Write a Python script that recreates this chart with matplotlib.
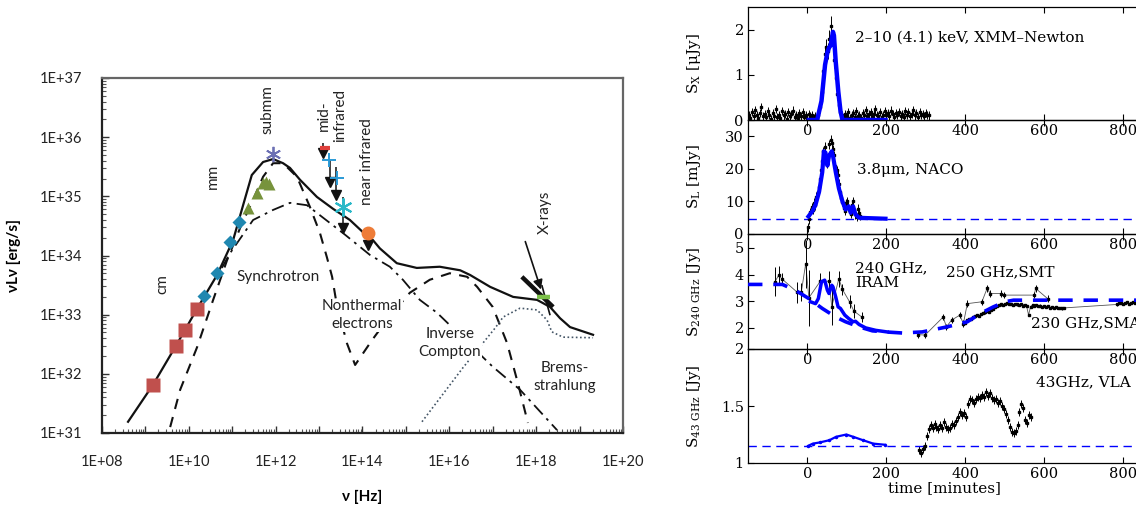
import numpy as np
import matplotlib
matplotlib.use('Agg')
import matplotlib.pyplot as plt
from matplotlib.ticker import LogLocator, FuncFormatter, NullFormatter

plt.rcParams['mathtext.fontset'] = 'dejavuserif'

# ---------------- spectrum (log10 nu [Hz], log10 nuLnu [erg/s]) ----------------
total_nu = [8.60, 9.17, 9.70, 10.19, 10.65, 11.02, 11.25, 11.45, 11.71, 11.94, 12.17, 12.33,
            12.56, 12.95, 13.32, 13.71, 14.06, 14.24, 14.40, 14.79, 15.25, 15.78, 16.25,
            16.48, 16.94, 17.47, 18.02, 18.32, 18.55, 18.78, 19.31]
total_L = [31.19, 31.81, 32.47, 33.10, 33.67, 34.26, 34.85, 35.36, 35.58, 35.63, 35.56, 35.48,
           35.28, 34.99, 34.79, 34.60, 34.36, 34.26, 34.12, 33.87, 33.79, 33.81, 33.75,
           33.67, 33.47, 33.30, 33.25, 33.13, 32.94, 32.79, 32.66]

therm_nu = [9.57, 9.80, 10.19, 10.56, 10.88, 11.20, 11.48, 11.71, 11.94, 12.17, 12.49, 12.79,
            13.02, 13.18, 13.30, 13.40, 13.64, 13.83, 14.22, 14.60, 15.09, 15.55, 16.01,
            16.41, 16.64, 17.00, 17.33, 17.58, 17.81]
therm_L = [31.10, 31.73, 32.45, 33.25, 33.92, 34.50, 34.94, 35.33, 35.56, 35.56, 35.33, 34.82,
           34.38, 33.97, 33.64, 33.20, 32.52, 32.15, 32.57, 32.95, 33.37, 33.59, 33.70,
           33.64, 33.47, 33.13, 32.52, 31.84, 31.17]

nonth_nu = [10.76, 10.95, 11.48, 11.94, 12.33, 12.72, 13.02, 13.60, 14.17, 14.63, 14.93,
            15.32, 15.72, 17.00, 17.63, 18.48]
nonth_L = [33.79, 34.04, 34.60, 34.77, 34.89, 34.85, 34.68, 34.35, 34.01, 33.81, 33.59,
           33.25, 33.03, 32.12, 31.73, 31.05]

brems_nu = [15.37, 16.31, 17.05, 17.24, 17.63, 18.02, 18.25, 18.36, 18.62, 19.31]
brems_L = [31.19, 32.10, 32.77, 32.96, 33.11, 33.08, 32.91, 32.71, 32.62, 32.61]

cm_nu = [9.17, 9.70, 9.91, 10.19]
cm_L = [31.81, 32.47, 32.74, 33.10]
mm_nu = [10.35, 10.65, 10.95, 11.16]
mm_L = [33.32, 33.70, 34.23, 34.57]
smm_nu = [11.36, 11.57, 11.70, 11.78, 11.85]
smm_L = [34.80, 35.06, 35.23, 35.25, 35.21]
peak_nu, peak_L = 11.94, 35.71

# mid-infrared upper limits: marker position and top of the arrow
ir_nu = [13.09, 13.25, 13.39, 13.55, 14.13]
ir_lim = [35.73, 35.24, 35.02, 34.46, 34.18]
ir_top = [35.90, 35.61, 35.50, 34.99, 34.18]
mir_red = (13.14, 35.82)
mir_plus_nu = [13.23, 13.41]
mir_plus_L = [35.61, 35.31]
mir_star = (13.55, 34.82)
nir_dot = (14.13, 34.38)

# X-ray arrow and bow tie
xray_arrow = [(17.73, 34.28), (18.13, 33.38)]
xray_bow1 = [(17.67, 33.64), (18.39, 33.13)]
xray_bow2 = [(18.13, 33.50), (18.32, 32.99)]
xray_flux = [(18.02, 33.30), (18.32, 33.30)]

# ---------------- light curves ----------------
xr_t = np.arange(-148, 310, 4)
xr_v = [0.12, 0.05, 0.18, 0.09, 0.22, 0.10, 0.04, 0.15, 0.28, 0.08,
        0.13, 0.06, 0.20, 0.11, 0.03, 0.16, 0.09, 0.24, 0.07, 0.12,
        0.05, 0.19, 0.10, 0.14, 0.02, 0.17, 0.08, 0.13, 0.21, 0.06,
        0.11, 0.04, 0.15, 0.09, 0.18, 0.07, 0.12, 0.03, 0.14, 0.08,
        0.10, 0.05, 0.09, 0.04,
        0.10, 0.28, 0.62, 1.08, 1.45, 1.62, 1.52, 1.80, 2.08, 1.70, 1.32, 0.92, 0.58, 0.34, 0.18, 0.10,
        0.06, 0.13, 0.08, 0.17, 0.04, 0.11, 0.15, 0.07, 0.20, 0.09,
        0.12, 0.05, 0.16, 0.10, 0.22, 0.08, 0.13, 0.18, 0.06, 0.14,
        0.25, 0.11, 0.09, 0.17, 0.07, 0.12, 0.19, 0.10, 0.15, 0.08,
        0.21, 0.13, 0.06, 0.16, 0.11, 0.18, 0.09, 0.14, 0.07, 0.20,
        0.12, 0.17, 0.08, 0.13, 0.22, 0.10, 0.15, 0.06, 0.18, 0.11,
        0.14, 0.09, 0.16, 0.12, 0.10]
xr_err = [0.09] * 44 + [0.10, 0.12, 0.14, 0.16, 0.18, 0.18, 0.18, 0.20, 0.22, 0.20,
                        0.18, 0.16, 0.14, 0.12, 0.10, 0.10] + [0.09] * 55
xr_mod_t = [4, 25, 36, 45, 51, 55, 59, 62, 65, 67.5, 72, 78.5, 84, 89, 198]
xr_mod_v = [0.0, 0.0, 0.42, 1.22, 1.50, 1.60, 1.65, 1.80, 1.95, 1.87, 1.29, 0.63, 0.20, 0.0, 0.0]

nir_t = np.arange(2, 135, 3)
nir_v = [2.0, 4.5, 6.8, 8.2, 7.5, 9.6, 8.8, 11.5, 12.8, 14.5, 17.0, 19.8, 22.5, 25.5, 26.8,
         24.0, 21.5, 23.5, 27.5, 29.0, 27.8, 26.0, 24.2, 21.0, 19.5, 18.2, 15.5, 13.0, 11.2,
         9.8, 8.0, 7.2, 9.5, 10.2, 8.4, 7.0, 6.2, 9.0, 10.0, 7.4, 6.0, 5.2, 7.8, 6.6, 5.5]
nir_err = 1.3
nir_mod_t = [3, 13, 21, 30, 38, 42, 46, 51, 55, 62, 65, 72, 80, 89, 97, 105, 110, 116, 122, 131, 150, 175, 198]
nir_mod_v = [5.4, 7.0, 9.0, 13.0, 19.0, 25.4, 25.0, 21.0, 24.0, 25.4, 24.0, 19.0, 14.0, 10.0,
             7.5, 8.5, 6.5, 8.5, 6.0, 5.0, 4.9, 4.8, 4.7]
nir_quiet = 4.6

iram_t = [-82, -72, -65, -25, -15, -4, 4, 33, 55, 62, 80, 89, 107, 118, 138]
iram_v = [3.73, 3.98, 3.85, 3.33, 3.35, 4.41, 3.13, 3.75, 3.75, 2.80, 3.85, 3.44, 2.98, 2.63, 2.41]
iram_err = [0.55, 0.35, 0.20, 0.40, 0.35, 0.90, 1.05, 0.30, 0.40, 0.68, 0.30, 0.20, 0.25, 0.25, 0.20]
smt_t = [281, 298, 344, 352, 365, 386, 395, 405, 442, 455, 463, 489, 498, 574, 578, 608]
smt_v = [1.75, 1.73, 2.41, 2.04, 2.29, 2.48, 2.16, 2.91, 2.98, 3.48, 3.29, 3.29, 3.23, 3.23, 3.48, 3.10]
smt_err = 0.12
sma_t = list(np.arange(400, 651, 5)) + list(np.arange(785, 836, 5))
sma_v = [2.20, 2.28, 2.35, 2.32, 2.40, 2.45, 2.48, 2.46, 2.52, 2.55, 2.58, 2.62, 2.60, 2.66,
         2.72, 2.78, 2.82, 2.85, 2.88, 2.86, 2.90, 2.92, 2.89, 2.91, 2.87, 2.90, 2.88, 2.86,
         2.89, 2.84, 2.87, 2.82, 2.48, 2.80, 2.86, 2.83, 2.85, 2.81, 2.84, 2.80, 2.82, 2.79,
         2.81, 2.76, 2.78, 2.75, 2.77, 2.74, 2.76, 2.73, 2.75,
         2.88, 2.92, 2.95, 2.90, 2.93, 2.96, 2.91, 2.94, 2.97, 2.92, 2.95]
sma_err = 0.04
mm_mod_t = [8, 21, 28, 36, 44, 51, 55, 62, 65, 72, 78, 84, 95, 105, 116, 122, 131, 148, 173, 202]
mm_mod_v = [2.98, 2.91, 3.10, 3.73, 3.79, 3.41, 3.29, 3.60, 3.54, 3.16, 2.79, 2.73, 2.48, 2.35,
            2.23, 2.25, 2.13, 2.00, 1.91, 1.85]
mm_base_t = [-150, -63, -30, 4, 38, 72, 97, 131, 165, 198, 240, 291, 354, 405, 438, 471, 501, 522, 607, 845]
mm_base_v = [3.63, 3.63, 3.41, 3.10, 2.73, 2.41, 2.23, 2.04, 1.89, 1.85, 1.81, 1.85, 2.04, 2.23,
             2.54, 2.79, 2.98, 3.04, 3.04, 3.04]

vla_t = np.arange(282, 568, 5)
vla_v = [1.11, 1.09, 1.12, 1.15, 1.24, 1.30, 1.33, 1.31, 1.34, 1.32, 1.30, 1.33, 1.31, 1.36,
         1.32, 1.30, 1.31, 1.34, 1.33, 1.37, 1.40, 1.45, 1.42, 1.44, 1.40, 1.52, 1.56, 1.55,
         1.53, 1.56, 1.58, 1.57, 1.60, 1.58, 1.62, 1.59, 1.61, 1.57, 1.55, 1.56, 1.53, 1.54,
         1.50, 1.47, 1.43, 1.38, 1.32, 1.27, 1.26, 1.28, 1.33, 1.45, 1.52, 1.48, 1.38, 1.35,
         1.42, 1.40]
vla_err = 0.035
vla_mod_t = [2, 14, 31, 56, 73, 99, 116, 141, 167, 197]
vla_mod_v = [1.15, 1.17, 1.18, 1.20, 1.23, 1.25, 1.23, 1.20, 1.17, 1.16]
vla_quiet = 1.15


def p10(a):
    return 10.0 ** np.asarray(a, dtype=float)


fig = plt.figure(figsize=(11.36, 5.09), dpi=100)

# ================= left: broadband spectrum =================
sans = ['Lato', 'DejaVu Sans']
ax = fig.add_axes([102 / 1136, 76 / 509, 521 / 1136, 355 / 509])
ax.set_xscale('log')
ax.set_yscale('log')
ax.set_xlim(1e8, 1e20)
ax.set_ylim(1e31, 1e37)

ax.plot(p10(total_nu), p10(total_L), color='#111111', lw=1.6, zorder=3)
ax.plot(p10(therm_nu), p10(therm_L), color='#111111', lw=1.5, ls=(0, (5, 4)), zorder=2)
ax.plot(p10(nonth_nu), p10(nonth_L), color='#111111', lw=1.3, ls=(0, (7, 3, 1.5, 3)), zorder=2)
ax.plot(p10(brems_nu), p10(brems_L), color='#445566', lw=1.2, ls=(0, (1, 1.5)), zorder=2)

ax.plot(p10(cm_nu), p10(cm_L), 's', color='#c0504d', ms=10, mec='none', zorder=4)
ax.plot(p10(mm_nu), p10(mm_L), 'D', color='#1f87b0', ms=7.5, mec='none', zorder=4)
ax.plot(p10(smm_nu), p10(smm_L), '^', color='#77933c', ms=8.5, mec='none', zorder=4)
ax.plot(p10(peak_nu), p10(peak_L), marker=(6, 2, 0), color='#6c70b4', ms=11, mew=1.3, zorder=4)

ax.vlines(p10(ir_nu), p10(ir_lim), p10(ir_top), color='#111111', lw=1.1, zorder=4)
ax.plot(p10(ir_nu), p10(ir_lim), 'v', color='#111111', ms=7, zorder=5)
ax.plot(p10(mir_red[0]), p10(mir_red[1]), marker='_', color='#e0403c', ms=7, mew=3, zorder=6)
ax.plot(p10(mir_plus_nu), p10(mir_plus_L), '+', color='#2a9ad6', ms=10, mew=1.4, zorder=6)
ax.plot(p10(mir_star[0]), p10(mir_star[1]), marker=(6, 2, 0), color='#2bb8c8', ms=13, mew=1.5, zorder=6)
ax.plot(p10(nir_dot[0]), p10(nir_dot[1]), 'o', color='#ee7c38', ms=10, mec='none', zorder=6)

(ax0, ay0), (ax1, ay1) = xray_arrow
ax.annotate('', xy=(p10(ax1), p10(ay1)), xytext=(p10(ax0), p10(ay0)),
            arrowprops=dict(arrowstyle='-|>', color='#111111', lw=1.2, mutation_scale=14), zorder=6)
for seg, lw, col in [(xray_bow1, 3.2, '#111111'), (xray_bow2, 1.2, '#111111'), (xray_flux, 3.2, '#7cc04a')]:
    ax.plot(p10([seg[0][0], seg[1][0]]), p10([seg[0][1], seg[1][1]]), color=col, lw=lw,
            solid_capstyle='butt', zorder=7)

lab = dict(family=sans, fontsize=11, color='#222222', zorder=8)
box = dict(facecolor='white', edgecolor='none', pad=0.5)
ax.text(p10(11.80), p10(36.46), 'submm', rotation=90, ha='center', va='center', **lab)
ax.text(p10(10.56), p10(35.34), 'mm', rotation=90, ha='center', va='center', **lab)
ax.text(p10(9.40), p10(33.52), 'cm', rotation=90, ha='center', va='center', **lab)
ax.text(p10(13.30), p10(36.37), 'mid-\ninfrared', rotation=90, ha='center', va='center',
        multialignment='center', linespacing=1.15, **lab)
ax.text(p10(14.10), p10(35.58), 'near infrared', rotation=90, ha='center', va='center', **lab)
ax.text(p10(18.20), p10(34.73), 'X-rays', rotation=90, ha='center', va='center', **lab)
ax.text(p10(12.05), p10(33.64), 'Synchrotron', ha='center', va='center', bbox=box, **lab)
ax.text(p10(13.99), p10(32.99), 'Nonthermal\nelectrons', ha='center', va='center',
        linespacing=1.35, bbox=box, **lab)
ax.text(p10(16.01), p10(32.52), 'Inverse\nCompton', ha='center', va='center',
        linespacing=1.35, bbox=box, **lab)
ax.text(p10(18.66), p10(31.95), 'Brems-\nstrahlung', ha='center', va='center',
        linespacing=1.35, bbox=box, **lab)

ax.xaxis.set_major_locator(LogLocator(base=10, numticks=30))
ax.xaxis.set_minor_locator(LogLocator(base=10, subs=np.arange(2, 10), numticks=200))
ax.yaxis.set_major_locator(LogLocator(base=10, numticks=30))
ax.yaxis.set_minor_locator(LogLocator(base=10, subs=np.arange(2, 10), numticks=200))


def excel_fmt(step):
    def f(v, pos):
        e = int(round(np.log10(v)))
        return '1E+%02d' % e if e % step == 0 else ''
    return FuncFormatter(f)


ax.xaxis.set_major_formatter(excel_fmt(2))
ax.yaxis.set_major_formatter(excel_fmt(1))
ax.xaxis.set_minor_formatter(NullFormatter())
ax.yaxis.set_minor_formatter(NullFormatter())
ax.tick_params(which='major', direction='in', length=5, width=1, colors='#333333',
               labelsize=10.5, labelcolor='#222222')
ax.tick_params(which='minor', direction='in', length=3, width=0.8, colors='#555555')
ax.tick_params(axis='x', which='major', pad=16)
ax.tick_params(axis='y', which='major', pad=14)
for t in ax.get_xticklabels() + ax.get_yticklabels():
    t.set_family(sans)
for s in ['left', 'bottom']:
    ax.spines[s].set_color('#222222')
    ax.spines[s].set_linewidth(1.6)
for s in ['top', 'right']:
    ax.spines[s].set_color('#666666')
    ax.spines[s].set_linewidth(1.6)
ax.set_ylabel('νLν [erg/s]', family=sans, fontweight='bold', fontsize=11)
ax.yaxis.set_label_coords(-0.155, 0.5)
ax.set_xlabel('ν [Hz]', family=sans, fontweight='bold', fontsize=11)
ax.xaxis.set_label_coords(0.5, -0.16)

# ================= right: light curves =================
serif = ['DejaVu Serif']
left, width = 748 / 1136, 392 / 1136
xlim = (-150, 842)
rows = [(7, 120), (120, 234), (234, 349), (349, 463)]
axes = []
for top, bot in rows:
    a = fig.add_axes([left, 1 - bot / 509, width, (bot - top) / 509])
    a.set_facecolor('none')
    a.set_xlim(*xlim)
    a.set_xticks([0, 200, 400, 600, 800])
    a.tick_params(direction='in', top=True, right=False, length=4, width=0.8,
                  labelsize=10.5, pad=3)
    for t in a.get_xticklabels() + a.get_yticklabels():
        t.set_family(serif)
    for s in a.spines.values():
        s.set_linewidth(0.9)
    axes.append(a)
a1, a2, a3, a4 = axes
eb = dict(fmt='s', color='black', ms=1.8, elinewidth=0.7, capsize=0, lw=0)
note = dict(family=serif, fontsize=11, va='center')

# X-ray
a1.errorbar(xr_t, xr_v, yerr=xr_err, **eb)
a1.plot(xr_mod_t, xr_mod_v, color='blue', lw=3.2, zorder=4)
a1.set_ylim(0, 2.5)
a1.set_yticks([0, 1, 2])
a1.set_ylabel(r'S$_\mathrm{X}$ [μJy]', family=serif, fontsize=11)
a1.text(122, 1.82, '2–10 (4.1) keV, XMM–Newton', **note)

# L band
a2.errorbar(nir_t, nir_v, yerr=nir_err, **eb)
a2.plot(nir_mod_t, nir_mod_v, color='blue', lw=3, zorder=4)
a2.axhline(nir_quiet, color='blue', lw=1, ls=(0, (6, 4)))
a2.set_ylim(0, 35)
a2.set_yticks([0, 10, 20, 30])
a2.set_ylabel(r'S$_\mathrm{L}$ [mJy]', family=serif, fontsize=11)
a2.text(125, 19.6, '3.8μm, NACO', **note)

# 240 GHz
a3.plot(iram_t, iram_v, color='#555555', lw=0.6)
a3.errorbar(iram_t, iram_v, yerr=iram_err, **eb)
a3.plot(smt_t, smt_v, color='#555555', lw=0.6)
a3.errorbar(smt_t, smt_v, yerr=smt_err, **eb)
a3.plot(sma_t, sma_v, color='#555555', lw=0.6)
a3.errorbar(sma_t, sma_v, yerr=sma_err, **eb)
a3.plot(mm_mod_t, mm_mod_v, color='blue', lw=2.5, zorder=4)
a3.plot(mm_base_t, mm_base_v, color='blue', lw=2.6, ls=(0, (4, 3)), zorder=4)
a3.set_ylim(1.21, 5.52)
a3.set_yticks([2, 3, 4, 5])
a3.set_ylabel(r'S$_\mathrm{240\ GHz}$ [Jy]', family=serif, fontsize=11)
a3.text(122, 3.95, '240 GHz,\nIRAM', linespacing=1.05, **note)
a3.text(350, 4.10, '250 GHz,SMT', **note)
a3.text(565, 2.19, '230 GHz,SMA', **note)

# 43 GHz
a4.errorbar(vla_t, vla_v, yerr=vla_err, **eb)
a4.plot(vla_mod_t, vla_mod_v, color='blue', lw=1.6, marker='.', ms=3, zorder=4)
a4.axhline(vla_quiet, color='blue', lw=1, ls=(0, (6, 4)))
a4.set_ylim(1, 2)
a4.set_yticks([1, 1.5, 2])
a4.set_yticklabels(['1', '1.5', '2'], family=serif)
a4.set_ylabel(r'S$_\mathrm{43\ GHz}$ [Jy]', family=serif, fontsize=11)
a4.set_xlabel('time [minutes]', family=serif, fontsize=11, labelpad=0)
a4.text(578, 1.71, '43GHz, VLA', **note)

for a in axes:
    a.yaxis.set_label_coords(-0.115, 0.5)

fig.savefig('out.png', dpi=100)
